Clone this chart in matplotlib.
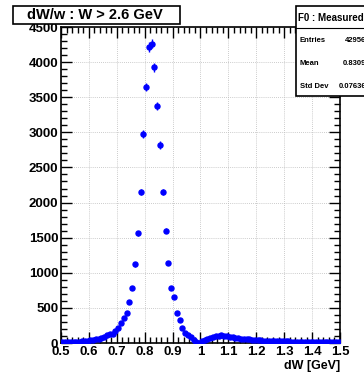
import numpy as np
import matplotlib
matplotlib.use('Agg')
import matplotlib.pyplot as plt
from matplotlib.patches import Rectangle
from matplotlib.ticker import MultipleLocator

plt.rcParams['font.family'] = ['Liberation Sans', 'DejaVu Sans']

# bin centres (0.01 GeV bins) and counts
bin_lo = 0.5
bin_width = 0.01
counts = [
    8, 10, 12, 14, 15, 18, 20, 24, 28, 32,
    38, 45, 52, 60, 74, 90, 110, 124, 126, 176,
    212, 281, 355, 431, 584, 778, 1120, 1562, 2150, 2975,
    3645, 4215, 4260, 3925, 3380, 2820, 2150, 1600, 1140, 790,
    655, 430, 328, 216, 147, 112, 80, 45, 20, 2,
    28, 48, 64, 78, 90, 100, 106, 108, 104, 98,
    90, 84, 76, 70, 64, 58, 54, 50, 46, 42,
    40, 37, 35, 33, 31, 29, 28, 26, 25, 24,
    23, 22, 21, 20, 19, 18, 17, 17, 16, 15,
    15, 14, 13, 13, 12, 12, 11, 11, 10, 9,
]
title = 'dW/w : W > 2.6 GeV'
stats_name = 'F0 : Measured'
stats_rows = [('Entries', '42956'), ('Mean', '0.8309'), ('Std Dev', '0.07636')]

counts = np.array(counts, dtype=float)
centres = bin_lo + bin_width * (np.arange(len(counts)) + 0.5)

fig = plt.figure(figsize=(3.64, 3.73), dpi=100)
ax = fig.add_axes([61 / 364, 1 - 343 / 373, 279 / 364, 316 / 373])

ax.errorbar(centres, counts, yerr=np.sqrt(counts), xerr=bin_width / 2,
            fmt='o', color='#0000ff', ms=3.6, elinewidth=1.0, capsize=0, zorder=3)

ax.set_xlim(0.5, 1.5)
ax.set_ylim(0, 4500)
ax.xaxis.set_minor_locator(MultipleLocator(0.02))
ax.yaxis.set_major_locator(MultipleLocator(500))
ax.yaxis.set_minor_locator(MultipleLocator(100))
ax.set_xticks(np.arange(0.5, 1.51, 0.1))
ax.set_xticklabels(['0.5', '0.6', '0.7', '0.8', '0.9', '1', '1.1', '1.2',
                    '1.3', '1.4', '1.5'])
ax.grid(True, which='major', color='#bbbbbb', linestyle=(0, (1, 1.5)), linewidth=0.6)
ax.tick_params(which='both', direction='in', top=True, right=True, width=1.0)
ax.tick_params(which='major', length=8, labelsize=9.5, pad=2)
ax.tick_params(which='minor', length=4)
for lab in ax.get_xticklabels() + ax.get_yticklabels():
    lab.set_fontweight('bold')
for sp in ax.spines.values():
    sp.set_linewidth(1.2)

fig.text(340 / 364, 1 - 366 / 373, 'dW [GeV]', ha='right', va='center',
         fontsize=9, fontweight='bold')

# title box
fig.patches.append(Rectangle((13 / 364, 1 - 24 / 373), 167 / 364, 18 / 373,
                             transform=fig.transFigure, facecolor='white',
                             edgecolor='black', linewidth=1.2, zorder=5))
fig.text(95 / 364, 1 - 15 / 373, title, ha='center', va='center',
         fontsize=10.5, fontweight='bold', zorder=6)

# stats box (runs off the right edge, as in the original)
fig.patches.append(Rectangle((296 / 364, 1 - 96 / 373), 80 / 364, 90 / 373,
                             transform=fig.transFigure, facecolor='white',
                             edgecolor='black', linewidth=1.2, zorder=5))
fig.lines.append(plt.Line2D([296 / 364, 1.1], [1 - 28 / 373] * 2,
                            transform=fig.transFigure, color='black',
                            linewidth=0.8, zorder=6))
fig.text(298 / 364, 1 - 18 / 373, stats_name, ha='left', va='center',
         fontsize=7, fontweight='bold', zorder=6)
for i, (name, val) in enumerate(stats_rows):
    y = 1 - (41 + 22.5 * i) / 373
    fig.text(300 / 364, y, name, ha='left', va='center', fontsize=5.5,
             fontweight='bold', zorder=6)
    fig.text(366 / 364, y, val, ha='right', va='center', fontsize=5.5,
             fontweight='bold', zorder=6)

fig.savefig('out.png', dpi=100)
